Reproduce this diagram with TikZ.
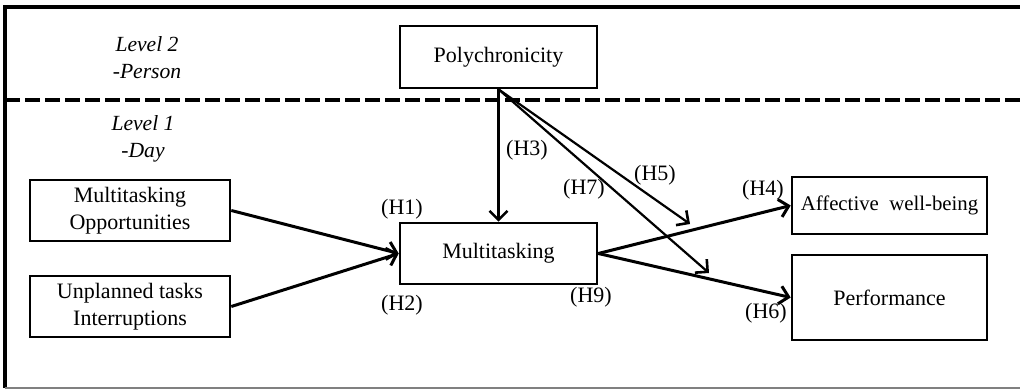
\documentclass[tikz,border=0pt]{standalone}
\usepackage{fontspec}
\setmainfont{Liberation Serif}
\usetikzlibrary{arrows.meta}
\begin{document}
\begin{tikzpicture}[x=0.5pt,y=-0.5pt,
  box/.style={draw,line width=1.3pt,inner sep=0pt,align=center,font=\fontsize{11}{13.5}\selectfont},
  lbl/.style={inner sep=0pt,font=\fontsize{11}{13}\selectfont},
  lvl/.style={inner sep=0pt,align=center,font=\fontsize{10.8}{13.5}\selectfont\itshape},
  arr/.style={line width=1.5pt,-{Straight Barb[length=4.5pt,width=9pt,line width=1.5pt]}},
  thinarr/.style={line width=1.1pt,-{Straight Barb[length=4.5pt,width=9pt,line width=1.3pt]}}]
\useasboundingbox (0,0) rectangle (1020,389);
% frame
\coordinate (tl) at (5,7);
\coordinate (tr) at (1020,7);
\coordinate (bl) at (5,388);
\coordinate (br) at (1020,388);
\draw[line width=2.2pt] (tr) -- (tl) -- (bl);
\draw[line width=0.6pt,gray] (bl) -- (br);
\coordinate (dl) at (5,100);
\coordinate (dr) at (1020,100);
\draw[line width=2.2pt,dash pattern=on 7.5pt off 2.5pt] (dl) -- (dr);
% level labels
\node[lvl] (l2) at (147,57.5) {Level 2\\-Person};
\node[lvl] (l1) at (143,138.5) {Level 1\\-Day};
% boxes
\node[box,minimum width=98.5pt,minimum height=31pt] (poly) at (498.5,57) {Polychronicity};
\node[box,minimum width=98.5pt,minimum height=30.5pt] (multi) at (498.5,253.5) {Multitasking};
\node[box,minimum width=100pt,minimum height=30.5pt] (opp) at (130,210.5) {Multitasking\\Opportunities};
\node[box,minimum width=100pt,minimum height=30.5pt] (unp) at (130,306.5) {Unplanned tasks\\Interruptions};
\node[box,minimum width=97.5pt,minimum height=28.5pt,font=\fontsize{10.4}{13}\selectfont] (awb) at (889.5,205.5) {Affective\ \ well-being};
\node[box,minimum width=97.5pt,minimum height=42.5pt] (perf) at (889.5,297.5) {Performance};
% moderation targets
\coordinate (m5) at (690,224);
\coordinate (m7) at (709,273);
% connectors
\draw[arr] (opp.east) -- (multi.west);
\draw[arr] (unp.east) -- (multi.west);
\draw[arr] (multi.east) -- (awb.west);
\draw[arr] (multi.east) -- (perf.west);
\draw[thinarr] (poly.south) -- (multi.north);
\draw[thinarr] (poly.south) -- (m5);
\draw[thinarr] (poly.south) -- (m7);
% labels
\node[lbl] (h1) at (402,209) {(H1)};
\node[lbl] (h2) at (402,305) {(H2)};
\node[lbl] (h3) at (527,150) {(H3)};
\node[lbl] (h5) at (655,175) {(H5)};
\node[lbl] (h7) at (584,189) {(H7)};
\node[lbl] (h4) at (763,190) {(H4)};
\node[lbl] (h9) at (591,297) {(H9)};
\node[lbl] (h6) at (766,313) {(H6)};
\end{tikzpicture}
\end{document}
